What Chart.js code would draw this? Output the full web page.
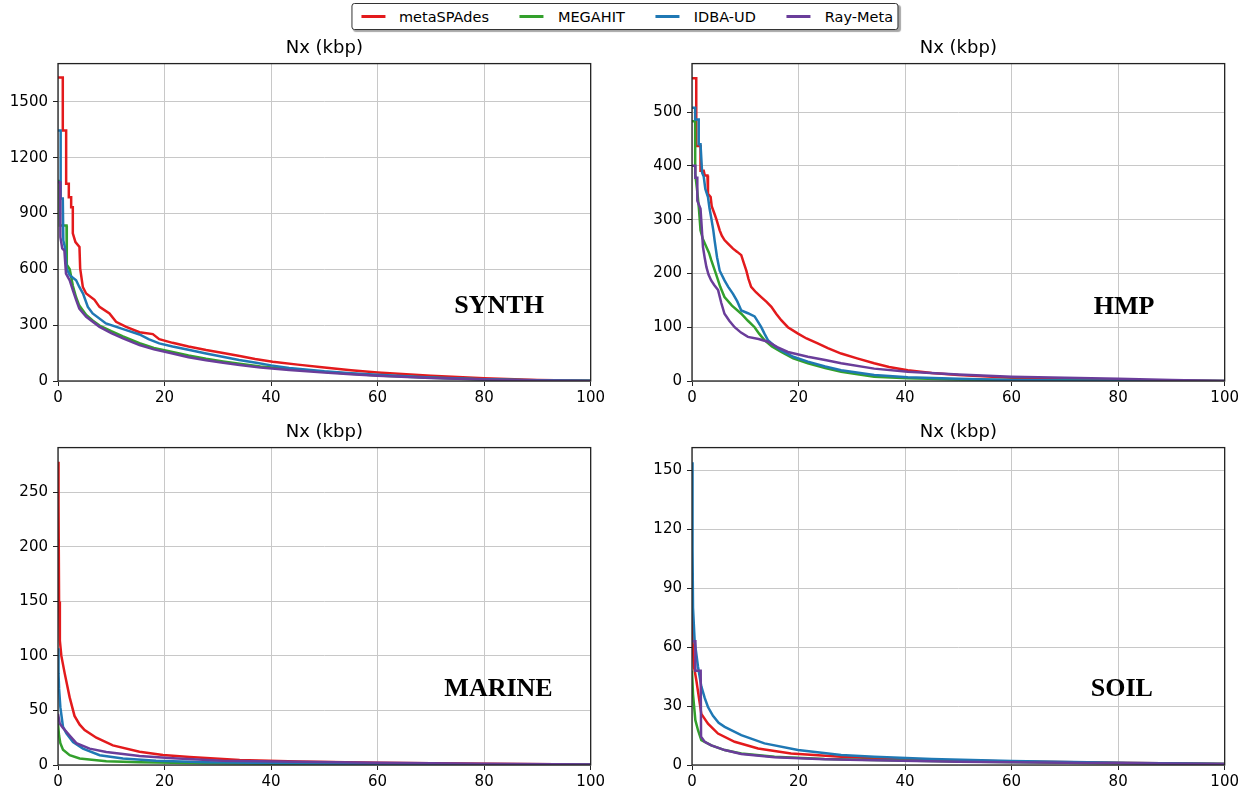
<!DOCTYPE html>
<html>
<head>
<meta charset="utf-8">
<script src="https://cdn.jsdelivr.net/npm/chart.js@4.4.0/dist/chart.umd.min.js"></script>
<style>
  html, body { margin: 0; padding: 0; background: #fff; overflow: hidden; }
  body { width: 1249px; height: 792px; position: relative; font-family: "DejaVu Sans", sans-serif; }
  .panel { position: absolute; }
  #legend {
    position: absolute; top: 3px; left: 50%; transform: translateX(-50%);
    height: 25px; display: flex; align-items: center; white-space: nowrap;
    border: 1px solid #333; border-radius: 3px; background: #fff;
    box-shadow: 2px 2px 1px rgba(0, 0, 0, 0.35);
    padding: 0 4px 0 9px; font-size: 14.5px; color: #000;
  }
  #legend .item { display: flex; align-items: center; margin-right: 31px; }
  #legend .item:last-child { margin-right: 0; }
  #legend .swatch { width: 24px; height: 2.5px; margin-right: 14px; }
</style>
</head>
<body>
<div id="legend"></div>
<div class="panel" style="left:0px;top:33px;width:608px;height:374px"><canvas id="synth"></canvas></div>
<div class="panel" style="left:634px;top:33px;width:608px;height:374px"><canvas id="hmp"></canvas></div>
<div class="panel" style="left:0px;top:417px;width:608px;height:374px"><canvas id="marine"></canvas></div>
<div class="panel" style="left:634px;top:417px;width:608px;height:374px"><canvas id="soil"></canvas></div>
<script>
const assemblers = ['metaSPAdes', 'MEGAHIT', 'IDBA-UD', 'Ray-Meta'];
const colors = ['#e31a1c', '#33a02c', '#1f78b4', '#6a3d9a'];
const xTicks = [0, 20, 40, 60, 80, 100];

// SYNTH: x = % of assembly, y = Nx in kbp
const synthTicks = [0, 300, 600, 900, 1200, 1500];
const synthSpadesX = [0, 0.9, 0.9, 1.53, 1.53, 2.03, 2.03, 2.47, 2.47, 2.78, 2.78, 3.28, 4.03, 4.16, 4.66, 5.28, 6.85, 7.79, 9.66, 10.9, 12.8, 15.3, 17.8, 19.0, 21.5, 24.5, 27.8, 31, 34.1, 37, 40.3, 45, 50, 55, 60, 70, 80, 90, 100];
const synthSpadesY = [1630, 1630, 1345, 1345, 1060, 1060, 987, 987, 934, 934, 793, 746, 720, 605, 505, 470, 436, 398, 363, 318, 291, 262, 252, 225, 205, 185, 166, 150, 134, 118, 104, 88, 72, 58, 46, 28, 15, 6, 1];
const synthMegahitX = [0, 0.3, 0.35, 1.6, 1.65, 2.2, 2.8, 3.4, 4.0, 5.3, 6.5, 7.8, 10, 12.2, 15.3, 18, 21.5, 24.5, 27.8, 31, 34.1, 38, 43.4, 50, 55, 60, 70, 80, 90, 100];
const synthMegahitY = [1075, 1075, 835, 835, 625, 600, 510, 450, 405, 355, 325, 298, 268, 240, 203, 178, 156, 137, 119, 105, 93, 78, 64, 49, 39, 30, 17, 8, 3, 1];
const synthIdbaX = [0, 0.5, 0.5, 0.9, 1.0, 1.3, 1.6, 2.2, 3.4, 4.0, 4.7, 5.6, 6.5, 9.0, 12.8, 15.3, 17, 19.0, 21.5, 24.7, 27.8, 30.9, 34, 37.2, 40, 43.4, 50, 55, 60, 70, 80, 90, 100];
const synthIdbaY = [1345, 1345, 980, 980, 755, 719, 605, 568, 541, 505, 470, 398, 363, 309, 273, 250, 225, 202, 185, 166, 148, 130, 113, 98, 84, 70, 52, 42, 33, 19, 10, 4, 1];
const synthRayX = [0, 0.4, 0.45, 0.8, 1.2, 1.5, 2.2, 2.8, 3.4, 4.0, 5.3, 7.8, 10, 12.2, 15.3, 18, 21.5, 24.5, 27.8, 31, 34.1, 38, 43.4, 50, 55, 60, 70, 80, 90, 100];
const synthRayY = [1068, 1068, 773, 712, 700, 577, 541, 487, 436, 389, 345, 291, 257, 229, 193, 170, 148, 128, 112, 98, 86, 72, 59, 45, 36, 28, 16, 8, 3, 0];

// HMP
const hmpTicks = [0, 100, 200, 300, 400, 500];
const hmpSpadesX = [0, 0.8, 0.8, 1.6, 1.6, 2.2, 2.4, 2.9, 3.0, 3.5, 3.7, 4.25, 4.6, 5.2, 5.6, 6.1, 6.8, 7.7, 8.5, 9.25, 9.7, 10.2, 10.6, 11.1, 12, 13.0, 14, 14.9, 15.8, 16.75, 18, 19.9, 21.5, 23.6, 25.5, 28.0, 31, 34.2, 37, 40.5, 45, 50, 60, 70, 80, 90, 100];
const hmpSpadesY = [563, 563, 437, 437, 391, 391, 382, 382, 348, 342, 325, 310, 300, 280, 270, 262, 255, 246, 240, 234, 220, 205, 190, 175, 165, 156, 147, 138, 125, 113, 100, 88, 79, 70, 61, 51, 42, 33, 26, 20, 15, 11, 6, 3, 2, 1, 0];
const hmpMegahitX = [0, 0.6, 0.6, 0.9, 1.1, 1.3, 1.6, 2.0, 2.7, 3.2, 3.6, 4.5, 5.3, 6.1, 7.5, 9.25, 10.5, 11.75, 12.6, 13.6, 15, 16.75, 19, 21.75, 25, 28, 34.2, 40.5, 50, 60, 80, 100];
const hmpMegahitY = [483, 483, 385, 360, 342, 320, 280, 265, 249, 238, 225, 199, 175, 156, 140, 125, 112, 100, 88, 76, 64, 54, 42, 33, 24, 17, 8, 5, 3, 2, 1, 0];
const hmpIdbaX = [0, 0.6, 0.6, 1.26, 1.26, 1.6, 1.9, 2.2, 2.5, 3.0, 3.3, 3.6, 4.0, 4.25, 4.7, 5.2, 6.1, 6.8, 7.7, 8.5, 9.25, 10.5, 11.75, 12.4, 13.0, 13.6, 14.25, 15.5, 16.75, 19, 21.75, 25, 28, 34.2, 40.5, 50, 60, 70, 80, 100];
const hmpIdbaY = [508, 508, 486, 486, 440, 440, 387, 380, 357, 342, 320, 304, 280, 261, 230, 205, 187, 175, 162, 148, 131, 126, 120, 110, 100, 88, 76, 65, 57, 45, 36, 27, 20, 11, 7, 4, 2, 1, 0.5, 0];
const hmpRayX = [0, 0.63, 0.63, 1.0, 1.0, 1.6, 1.8, 2.06, 2.4, 2.7, 3.1, 3.6, 4.2, 4.9, 5.5, 6.1, 7.0, 8.0, 9.2, 10.5, 12.5, 14.25, 16, 18, 21.75, 25, 28, 34.2, 40.5, 50, 60, 70, 80, 90, 100];
const hmpRayY = [400, 400, 378, 378, 335, 320, 290, 249, 228, 212, 198, 187, 178, 169, 145, 125, 112, 100, 90, 82, 78, 73, 63, 54, 45, 39, 33, 23, 17, 12, 8, 6, 4, 2, 0];

// MARINE
const marineTicks = [0, 50, 100, 150, 200, 250];
const marineSpadesX = [0, 0.1, 0.2, 0.35, 0.63, 1.26, 2.19, 3.1, 4.07, 5.0, 7.2, 10.3, 15.3, 19.7, 24.7, 34.1, 45, 60, 80, 100];
const marineSpadesY = [278, 240, 150, 114, 100, 84, 62, 45, 37, 32, 25, 18, 12.2, 9.2, 7.3, 4.6, 3.2, 2, 1.2, 0.5];
const marineMegahitX = [0, 0.2, 0.44, 0.94, 2.19, 4.07, 9.07, 15.3, 27.8, 50, 100];
const marineMegahitY = [38, 27, 20, 14, 9, 6, 3.5, 2.5, 1.6, 0.8, 0.2];
const marineIdbaX = [0, 0.1, 0.2, 0.44, 0.94, 1.57, 2.82, 4.69, 7.82, 12.2, 18.4, 27.8, 40, 60, 80, 100];
const marineIdbaY = [107, 84, 70, 53, 35, 29, 21, 15, 9, 6, 4, 2.5, 1.8, 1, 0.6, 0.3];
const marineRayX = [0, 0.32, 0.94, 2.19, 3.44, 5.94, 9.07, 15.3, 21.6, 30.9, 45, 60, 80, 100];
const marineRayY = [47, 38, 34, 27, 20, 15, 12, 8.2, 6.1, 4, 3, 2, 1.2, 0.5];

// SOIL
const soilTicks = [0, 30, 60, 90, 120, 150];
const soilSpadesX = [0, 0.1, 0.38, 0.82, 1.75, 3.0, 4.88, 8.0, 12.4, 18.6, 28, 34.2, 45, 60, 80, 100];
const soilSpadesY = [94, 63, 50, 43, 26, 21, 16, 11.8, 8.4, 5.9, 4.2, 3.4, 2.6, 1.8, 1.1, 0.5];
const soilMegahitX = [0, 0.19, 0.63, 1.13, 1.75, 3.63, 6.13, 9.25, 15.5, 24.9, 34.2, 50, 70, 100];
const soilMegahitY = [48, 36, 22.8, 17.7, 12.7, 10, 7.6, 5.9, 4.2, 3, 2.5, 1.8, 1.2, 0.5];
const soilIdbaX = [0, 0.1, 0.19, 0.5, 1.13, 1.75, 2.4, 3.0, 3.94, 5.0, 6.13, 9.25, 13.6, 19.9, 28, 34.2, 45, 60, 80, 100];
const soilIdbaY = [154, 110, 80, 63, 50, 40, 34, 29.5, 25, 21.5, 19.4, 15.2, 11, 7.6, 5.1, 4.2, 3.0, 2.0, 1.2, 0.5];
const soilRayX = [0, 0.63, 0.63, 1.63, 1.7, 2.38, 3.63, 6.13, 9.25, 15.5, 24.9, 34.2, 50, 70, 100];
const soilRayY = [63, 63, 48, 48, 14.4, 11.8, 10, 7.6, 5.6, 3.9, 2.9, 2.4, 1.7, 1.1, 0.5];

const panels = [
  { id: 'synth', label: 'SYNTH', yMax: 1705, yTicks: synthTicks, fx: 0.828, fy: 0.764,
    xs: [synthSpadesX, synthMegahitX, synthIdbaX, synthRayX], ys: [synthSpadesY, synthMegahitY, synthIdbaY, synthRayY] },
  { id: 'hmp', label: 'HMP', yMax: 590, yTicks: hmpTicks, fx: 0.811, fy: 0.767,
    xs: [hmpSpadesX, hmpMegahitX, hmpIdbaX, hmpRayX], ys: [hmpSpadesY, hmpMegahitY, hmpIdbaY, hmpRayY] },
  { id: 'marine', label: 'MARINE', yMax: 291, yTicks: marineTicks, fx: 0.827, fy: 0.761,
    xs: [marineSpadesX, marineMegahitX, marineIdbaX, marineRayX], ys: [marineSpadesY, marineMegahitY, marineIdbaY, marineRayY] },
  { id: 'soil', label: 'SOIL', yMax: 161.5, yTicks: soilTicks, fx: 0.807, fy: 0.761,
    xs: [soilSpadesX, soilMegahitX, soilIdbaX, soilRayX], ys: [soilSpadesY, soilMegahitY, soilIdbaY, soilRayY] }
];

// shared legend across the four panels
const legend = document.getElementById('legend');
assemblers.forEach((name, i) => {
  const item = document.createElement('div');
  item.className = 'item';
  item.innerHTML = '<span class="swatch" style="background:' + colors[i] + '"></span><span>' + name + '</span>';
  legend.appendChild(item);
});

const tickFont = { family: '"DejaVu Sans", sans-serif', size: 15 };

// box around the plot area (all four spines)
const frame = {
  id: 'frame',
  afterDatasetsDraw(chart) {
    const a = chart.chartArea, ctx = chart.ctx;
    ctx.save();
    ctx.strokeStyle = '#222';
    ctx.lineWidth = 1.3;
    ctx.strokeRect(a.left, a.top, a.right - a.left, a.bottom - a.top);
    ctx.restore();
  }
};

function drawPanel(p) {
  const datasets = assemblers.map((name, i) => ({
    label: name,
    data: p.xs[i].map((x, k) => ({ x: x, y: p.ys[i][k] })),
    borderColor: colors[i],
    borderWidth: 2.5,
    pointRadius: 0,
    fill: false,
    order: assemblers.length - i
  }));

  const sampleLabel = {
    id: 'sampleLabel',
    afterDatasetsDraw(chart) {
      const a = chart.chartArea, ctx = chart.ctx;
      ctx.save();
      ctx.font = 'bold 26px "Liberation Serif", "Times New Roman", serif';
      ctx.fillStyle = '#000';
      ctx.textAlign = 'center';
      ctx.textBaseline = 'middle';
      ctx.fillText(p.label, a.left + p.fx * (a.right - a.left), a.top + p.fy * (a.bottom - a.top));
      ctx.restore();
    }
  };

  new Chart(document.getElementById(p.id), {
    type: 'line',
    data: { datasets: datasets },
    options: {
      animation: false,
      responsive: true,
      maintainAspectRatio: false,
      devicePixelRatio: 1,
      layout: { padding: { left: 0, right: 16, top: 0, bottom: 0 } },
      plugins: {
        legend: { display: false },
        tooltip: { enabled: false },
        title: {
          display: true,
          fullSize: false,
          text: 'Nx (kbp)',
          color: '#000',
          font: { family: '"DejaVu Sans", sans-serif', size: 18, weight: 'normal' },
          padding: { top: 5, bottom: 4 }
        }
      },
      scales: {
        x: {
          type: 'linear', min: 0, max: 100,
          afterBuildTicks: s => { s.ticks = xTicks.map(v => ({ value: v })); },
          ticks: { color: '#000', font: tickFont, padding: 3, maxRotation: 0, callback: v => String(v) },
          grid: { color: '#c8c8c8', lineWidth: 1, tickColor: '#222', tickLength: 5 },
          border: { display: false },
          afterFit: s => { s.height = 26; }
        },
        y: {
          type: 'linear', min: 0, max: p.yMax,
          afterBuildTicks: s => { s.ticks = p.yTicks.map(v => ({ value: v })); },
          ticks: { color: '#000', font: tickFont, padding: 5, callback: v => String(v) },
          grid: { color: '#c8c8c8', lineWidth: 1, tickColor: '#222', tickLength: 5 },
          border: { display: false },
          afterFit: s => { s.width = 58; }
        }
      }
    },
    plugins: [frame, sampleLabel]
  });
}

panels.forEach(drawPanel);
</script>
</body>
</html>
